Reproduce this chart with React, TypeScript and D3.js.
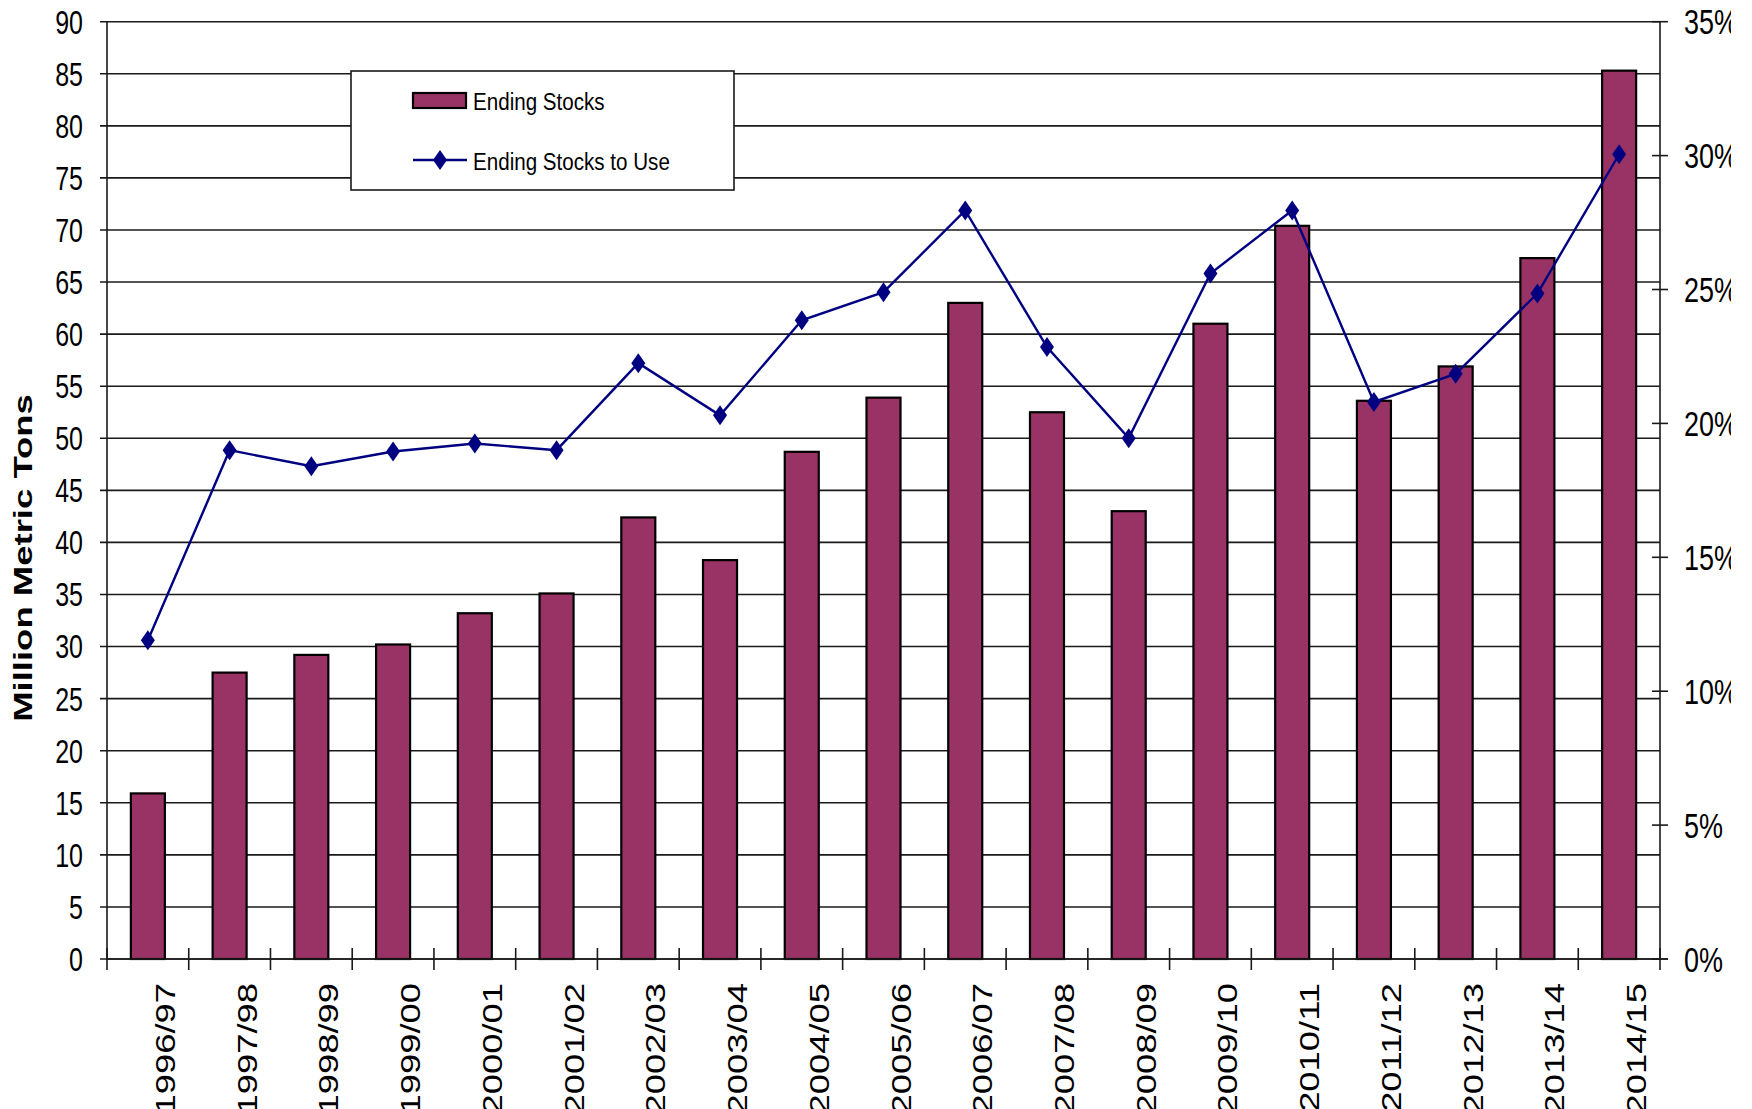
import React from "react";
import * as d3 from "d3";

const categories = ["1996/97","1997/98","1998/99","1999/00","2000/01","2001/02","2002/03","2003/04","2004/05","2005/06","2006/07","2007/08","2008/09","2009/10","2010/11","2011/12","2012/13","2013/14","2014/15"];
const endingStocks = [15.9,27.5,29.2,30.2,33.2,35.1,42.4,38.3,48.7,53.9,63.0,52.5,43.0,61.0,70.4,53.6,56.9,67.3,85.3];
const stocksToUse = [11.9,19.0,18.4,18.95,19.25,19.0,22.25,20.3,23.85,24.9,27.95,22.85,19.45,25.6,27.95,20.8,21.85,24.85,30.05];
const leftTicks = d3.range(0, 91, 5);
const rightTicks = d3.range(0, 36, 5);

const W = 1752, H = 1109;
const L = 107, R = 1660, T = 21.7, B = 959;
const FONT = "'Liberation Sans', Arial, sans-serif";

export default function App() {
  const x = d3.scaleBand<string>().domain(categories).range([L, R]).paddingInner(0.584).paddingOuter(0.292);
  const y = d3.scaleLinear().domain([0, 90]).range([B, T]);
  const y2 = d3.scaleLinear().domain([0, 35]).range([B, T]);
  const step = x.step();
  const bw = x.bandwidth();
  const cx = (c: string) => (x(c) as number) + bw / 2;
  const line = d3.line<number>().x((_, i) => cx(categories[i])).y((d) => y2(d));
  const diamond = (px: number, py: number) => `M${px},${py - 10}L${px + 7},${py}L${px},${py + 10}L${px - 7},${py}Z`;
  const stroke = "#1a1a1a";

  return (
    <svg width={W} height={H} style={{ position: "absolute", left: 0, top: 0, background: "#fff" }} fontFamily={FONT}>
      <defs>
        <clipPath id="imgclip">
          <rect x={0} y={0} width={1731} height={H} />
        </clipPath>
      </defs>
      <rect x={0} y={0} width={W} height={H} fill="#fff" />
      {leftTicks.map((t) => (
        <line key={"g" + t} x1={100} x2={R} y1={y(t)} y2={y(t)} stroke={stroke} strokeWidth={1.6} />
      ))}
      {leftTicks.map((t) => (
        <text key={"lt" + t} transform={`translate(83,${y(t)}) scale(1,1.32)`} y={9} textAnchor="end" fontSize={25} fill="#000">{t}</text>
      ))}
      <line x1={R} x2={R} y1={T} y2={B} stroke={stroke} strokeWidth={1.6} />
      {rightTicks.map((t) => (
        <line key={"rt" + t} x1={1652} x2={1668} y1={y2(t)} y2={y2(t)} stroke={stroke} strokeWidth={1.6} />
      ))}
      <g clipPath="url(#imgclip)">
        {rightTicks.map((t) => (
          <text key={"rl" + t} transform={`translate(1684,${y2(t)}) scale(1,1.3)`} y={9.7} textAnchor="start" fontSize={27} fill="#000">{t + "%"}</text>
        ))}
      </g>
      {categories.map((c, i) => (
        <rect key={"b" + c} x={x(c)} y={y(endingStocks[i])} width={bw} height={B - y(endingStocks[i])} fill="#993366" stroke="#000" strokeWidth={2.2} />
      ))}
      <line x1={L} x2={L} y1={T} y2={B} stroke={stroke} strokeWidth={1.6} />
      <line x1={L} x2={1668} y1={B} y2={B} stroke={stroke} strokeWidth={1.6} />
      {d3.range(categories.length + 1).map((i) => (
        <line key={"xt" + i} x1={L + i * step} x2={L + i * step} y1={948} y2={970} stroke={stroke} strokeWidth={1.6} />
      ))}
      {categories.map((c) => (
        <text key={"xl" + c} transform={`translate(${cx(c) + 27},983) rotate(-90) scale(1.3,1)`} textAnchor="end" fontSize={28} fill="#000">{c}</text>
      ))}
      <path d={line(stocksToUse) || ""} fill="none" stroke="#000080" strokeWidth={2.4} />
      {stocksToUse.map((v, i) => (
        <path key={"m" + i} d={diamond(cx(categories[i]), y2(v))} fill="#000080" />
      ))}
      <text transform="translate(32,558) rotate(-90) scale(1.46,1)" textAnchor="middle" fontSize={25} fontWeight="bold" fill="#000">Million Metric Tons</text>
      <rect x={351} y={71} width={383} height={119} fill="#fff" stroke={stroke} strokeWidth={1.6} />
      <rect x={413} y={93} width={53} height={15} fill="#993366" stroke="#000" strokeWidth={2.2} />
      <text transform="translate(473,110) scale(1,1.15)" fontSize={20.6} fill="#000">Ending Stocks</text>
      <line x1={413} x2={467} y1={160} y2={160} stroke="#000080" strokeWidth={2.4} />
      <path d={diamond(440, 160)} fill="#000080" />
      <text transform="translate(473,170) scale(1,1.15)" fontSize={20.6} fill="#000">Ending Stocks to Use</text>
    </svg>
  );
}
